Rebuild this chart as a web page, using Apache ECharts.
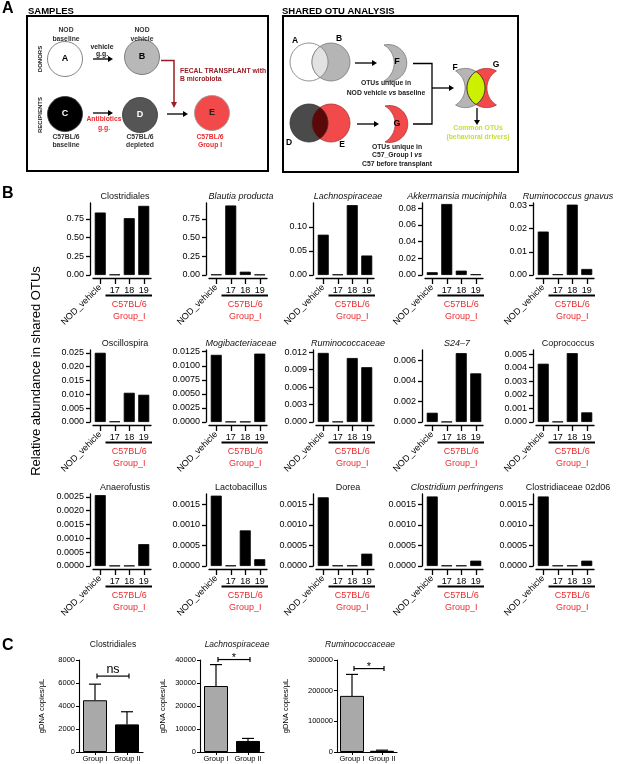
<!DOCTYPE html>
<html><head><meta charset="utf-8">
<script src="https://cdn.jsdelivr.net/npm/echarts@6/dist/echarts.min.js"></script>
<style>html,body{margin:0;padding:0;background:#fff}#c{width:617px;height:764px}</style>
</head><body><div id="c"></div>
<script>
// ---------------- DATA ----------------
const categories = ['NOD_vehicle', '17', '18', '19'];
const groupLabel = 'C57BL/6\nGroup_I';
const taxa = ['Clostridiales', 'Blautia producta', 'Lachnospiraceae', 'Akkermansia muciniphila', 'Ruminococcus gnavus',
  'Oscillospira', 'Mogibacteriaceae', 'Ruminococcaceae', 'S24\u20137', 'Coprococcus',
  'Anaerofustis', 'Lactobacillus', 'Dorea', 'Clostridium perfringens', 'Clostridiaceae 02d06'];
const italicTaxa = [false, true, true, true, true, false, true, true, true, false, false, false, false, true, false];

const clostridiales = [0.833, 0.006, 0.758, 0.922];
const blautiaProducta = [0.006, 0.927, 0.044, 0.005];
const lachnospiraceae = [0.084, 0.001, 0.1456, 0.0406];
const akkermansiaMuciniphila = [0.0033, 0.0848, 0.0052, 0.0008];
const ruminococcusGnavus = [0.0187, 0.0003, 0.0303, 0.0026];
const oscillospira = [0.0250, 0.0002, 0.01055, 0.00984];
const mogibacteriaceae = [0.01194, 0.00005, 0.00005, 0.01216];
const ruminococcaceae = [0.0119, 0.00005, 0.01102, 0.00944];
const s24_7 = [0.0009, 0.00002, 0.0067, 0.00473];
const coprococcus = [0.00429, 0.00002, 0.00507, 0.00071];
const anaerofustis = [0.00256, 0.00001, 0.00001, 0.00079];
const lactobacillus = [0.00171, 0.00001, 0.000866, 0.000165];
const dorea = [0.00167, 0.00001, 0.00001, 0.0003];
const clostridiumPerfringens = [0.00169, 0.00001, 0.00001, 0.00013];
const clostridiaceae02d06 = [0.00169, 0.00001, 0.00001, 0.00013];

const yMaxima = [0.96, 0.96, 0.15, 0.086, 0.031, 0.026, 0.0128, 0.0124, 0.007, 0.0053, 0.0026, 0.00175, 0.00175, 0.00175, 0.00175];
const yTicks = [
  [0, 0.25, 0.5, 0.75], [0, 0.25, 0.5, 0.75], [0, 0.05, 0.1], [0, 0.02, 0.04, 0.06, 0.08], [0, 0.01, 0.02, 0.03],
  [0, 0.005, 0.01, 0.015, 0.02, 0.025], [0, 0.0025, 0.005, 0.0075, 0.01, 0.0125], [0, 0.003, 0.006, 0.009, 0.012], [0, 0.002, 0.004, 0.006], [0, 0.001, 0.002, 0.003, 0.004, 0.005],
  [0, 0.0005, 0.001, 0.0015, 0.002, 0.0025], [0, 0.0005, 0.001, 0.0015], [0, 0.0005, 0.001, 0.0015], [0, 0.0005, 0.001, 0.0015], [0, 0.0005, 0.001, 0.0015]
];
const yDecimals = [2, 2, 2, 2, 2, 3, 4, 3, 3, 3, 4, 4, 4, 4, 4];
const bYTitle = 'Relative abundance in shared OTUs';

// Panel C (qPCR)
const groupsC = ['Group I', 'Group II'];
const cTitles = ['Clostridiales', 'Lachnospiraceae', 'Ruminococcaceae'];
const cItalic = [false, true, true];
const clostridialesMean = [4500, 2400];
const clostridialesUpper = [5900, 3500];
const lachnospiraceaeMean = [28700, 4800];
const lachnospiraceaeUpper = [38000, 5900];
const ruminococcaceaeMean = [183000, 4000];
const ruminococcaceaeUpper = [253000, 6000];
const cYMax = [8000, 40000, 300000];
const cYInterval = [2000, 10000, 100000];
const cSig = ['ns', '*', '*'];
const cSigLevel = [6600, 40200, 272000];
const cYTitle = 'gDNA copies/\u03bcL';

// ---------------- LAYOUT ----------------
const FONT = '"Liberation Sans", Arial, Helvetica, sans-serif';
const RED = '#ec2b2f';
const bValues = [clostridiales, blautiaProducta, lachnospiraceae, akkermansiaMuciniphila, ruminococcusGnavus,
  oscillospira, mogibacteriaceae, ruminococcaceae, s24_7, coprococcus,
  anaerofustis, lactobacillus, dorea, clostridiumPerfringens, clostridiaceae02d06];
const colLefts = [93, 209, 316, 425, 536];
const rowTops = [203, 350, 494];
const GW = 58, GH = 72;

const grids = [], xAxes = [], yAxes = [], series = [];
const axisLineStyle = { color: '#000', width: 1.3 };

bValues.forEach((vals, i) => {
  const r = Math.floor(i / 5), c = i % 5;
  grids.push({ left: colLefts[c], top: rowTops[r], width: GW, height: GH, outerBoundsMode: 'none', containLabel: false });
  const gi = grids.length - 1;
  xAxes.push({
    type: 'category', gridIndex: gi, data: categories, position: 'bottom', offset: 3,
    axisLine: { show: true, onZero: false, lineStyle: axisLineStyle },
    axisTick: { show: true, alignWithLabel: true, interval: 0, length: 6, lineStyle: axisLineStyle },
    axisLabel: { rotate: 45, interval: (idx) => idx === 0, fontSize: 9, color: '#000', fontFamily: FONT, margin: 8, hideOverlap: false },
    splitLine: { show: false }
  });
  xAxes.push({
    type: 'category', gridIndex: gi, data: categories, position: 'bottom', offset: 3,
    axisLine: { show: false, onZero: false }, axisTick: { show: false },
    axisLabel: { interval: (idx) => idx > 0, fontSize: 9, color: '#000', fontFamily: FONT, margin: 8, hideOverlap: false },
    splitLine: { show: false }
  });
  const ticks = yTicks[i];
  const dec = yDecimals[i];
  yAxes.push({
    type: 'value', gridIndex: gi, min: 0, max: yMaxima[i], interval: ticks[1] - ticks[0], offset: 3,
    axisLine: { show: true, lineStyle: axisLineStyle },
    axisTick: { show: true, length: 4, customValues: ticks, lineStyle: axisLineStyle },
    axisLabel: { customValues: ticks, formatter: (v) => Number(v).toFixed(dec), fontSize: 9, color: '#000', fontFamily: FONT, margin: 6, hideOverlap: false },
    splitLine: { show: false }
  });
  series.push({
    type: 'bar', xAxisIndex: 2 * i, yAxisIndex: gi, data: vals, barWidth: 11, silent: true,
    itemStyle: { color: '#000', borderColor: '#000', borderWidth: 0.8 }
  });
});

const cMeans = [clostridialesMean, lachnospiraceaeMean, ruminococcaceaeMean];
const cUppers = [clostridialesUpper, lachnospiraceaeUpper, ruminococcaceaeUpper];
const cLefts = [79, 200, 337];
const cWidths = [64, 64, 60];
const cNameGaps = [33, 33, 47];
const cTitleX = [113, 237, 360];
const cFirstGrid = grids.length;
const cFirstX = xAxes.length;

function errorRender(params, api) {
  const base = api.coord([api.value(0), api.value(1)]);
  const top = api.coord([api.value(0), api.value(2)]);
  const st = { stroke: '#000', lineWidth: 1.2 };
  return {
    type: 'group', children: [
      { type: 'line', shape: { x1: base[0], y1: base[1], x2: base[0], y2: top[1] }, style: st },
      { type: 'line', shape: { x1: base[0] - 6, y1: top[1], x2: base[0] + 6, y2: top[1] }, style: st }
    ]
  };
}

cMeans.forEach((m, k) => {
  grids.push({ left: cLefts[k], top: 660, width: cWidths[k], height: 92, outerBoundsMode: 'none', containLabel: false });
  const gi = grids.length - 1;
  xAxes.push({
    type: 'category', gridIndex: gi, data: groupsC, position: 'bottom',
    axisLine: { show: true, onZero: false, lineStyle: { color: '#000', width: 1.1 } },
    axisTick: { show: true, alignWithLabel: true, length: 3, lineStyle: { color: '#000', width: 1 } },
    axisLabel: { fontSize: 7.5, color: '#000', fontFamily: FONT, margin: 3, interval: 0 },
    splitLine: { show: false }
  });
  const xi = xAxes.length - 1;
  yAxes.push({
    type: 'value', gridIndex: gi, min: 0, max: cYMax[k], interval: cYInterval[k],
    name: cYTitle, nameLocation: 'middle', nameRotate: 90, nameGap: cNameGaps[k],
    nameTextStyle: { fontSize: 7.5, color: '#000', fontFamily: FONT },
    axisLine: { show: true, lineStyle: { color: '#000', width: 1.1 } },
    axisTick: { show: true, length: 3, lineStyle: { color: '#000', width: 1 } },
    axisLabel: { formatter: (v) => String(v), fontSize: 7.5, color: '#000', fontFamily: FONT, margin: 4 },
    splitLine: { show: false }
  });
  series.push({
    type: 'bar', xAxisIndex: xi, yAxisIndex: gi, barWidth: 24, silent: true,
    data: [{ value: m[0], itemStyle: { color: '#a9a9a9' } }, { value: m[1], itemStyle: { color: '#000' } }],
    itemStyle: { borderColor: '#000', borderWidth: 1 }
  });
  series.push({
    type: 'custom', xAxisIndex: xi, yAxisIndex: gi, renderItem: errorRender, z: 5, silent: true,
    data: [[0, m[0], cUppers[k][0]], [1, m[1], cUppers[k][1]]]
  });
});

const chart = echarts.init(document.getElementById('c'), null, { renderer: 'canvas' });
chart.setOption({
  animation: false,
  backgroundColor: '#fff',
  textStyle: { fontFamily: FONT },
  grid: grids, xAxis: xAxes, yAxis: yAxes, series: series
});

// ---------------- ANNOTATIONS ----------------
function txt(x, y, text, o = {}) {
  const style = {
    text, x: 0, y: 0, fill: o.color || '#000',
    fontSize: o.size || 9, fontFamily: FONT,
    fontWeight: o.bold ? 'bold' : 'normal', fontStyle: o.italic ? 'italic' : 'normal',
    align: o.align || 'center', verticalAlign: o.va || 'middle',
    textAlign: o.align || 'center', textVerticalAlign: o.va || 'middle'
  };
  if (o.lh) style.lineHeight = o.lh;
  if (o.rich) style.rich = o.rich;
  return { type: 'text', x, y, rotation: o.rot || 0, z: 20, silent: true, style };
}
function circ(cx, cy, r, fill, stroke, lw) {
  return { type: 'circle', z: 10, silent: true, shape: { cx, cy, r }, style: { fill, stroke: stroke || null, lineWidth: lw || 0.8 } };
}
function pline(points, color, lw) {
  return { type: 'polyline', z: 11, silent: true, shape: { points }, style: { stroke: color || '#000', lineWidth: lw || 1.3, fill: null } };
}
function arrow(x1, y1, x2, y2, color, lw) {
  const dx = x2 - x1, dy = y2 - y1, L = Math.hypot(dx, dy), ux = dx / L, uy = dy / L;
  const h = 5, w = 3;
  const bx = x2 - ux * h, by = y2 - uy * h;
  return [
    pline([[x1, y1], [bx, by]], color, lw),
    { type: 'polygon', z: 11, silent: true, shape: { points: [[x2, y2], [bx - uy * w, by + ux * w], [bx + uy * w, by - ux * w]] }, style: { fill: color || '#000' } }
  ];
}
function arcPts(cx, cy, r, a0, a1, n) {
  const pts = [];
  for (let j = 0; j <= n; j++) {
    const a = a0 + (a1 - a0) * j / n;
    pts.push([cx + r * Math.cos(a), cy + r * Math.sin(a)]);
  }
  return pts;
}
// crescent with tips on vertical line x = tipX, bulging right (mirror = bulging left)
function crescent(tipX, cy, halfH, rO, rI, mirror, fill, stroke) {
  const dO = Math.sqrt(rO * rO - halfH * halfH), dI = Math.sqrt(rI * rI - halfH * halfH);
  const outer = arcPts(tipX + dO, cy, rO, Math.atan2(-halfH, -dO), Math.atan2(halfH, -dO), 40);
  const inner = arcPts(tipX - dI, cy, rI, Math.atan2(halfH, dI), Math.atan2(-halfH, dI), 30);
  let pts = outer.concat(inner);
  if (mirror) pts = pts.map(p => [2 * tipX - p[0], p[1]]);
  return { type: 'polygon', z: 10, silent: true, shape: { points: pts }, style: { fill, stroke, lineWidth: 0.8 } };
}
// lens = intersection of two equal circles with centres (c1x,cy) and (c2x,cy)
function lens(c1x, c2x, cy, r, fill, stroke, lw) {
  const d = c2x - c1x, xi = (c1x + c2x) / 2, h = Math.sqrt(r * r - d * d / 4);
  const right = arcPts(c1x, cy, r, Math.atan2(-h, d / 2), Math.atan2(h, d / 2), 30);
  const left = right.slice(1, -1).reverse().map(p => [2 * xi - p[0], p[1]]);
  return { type: 'polygon', z: 10, silent: true, shape: { points: right.concat(left) }, style: { fill, stroke, lineWidth: lw || 0.8 } };
}

const g = [];
// Panel letters
g.push(txt(2, 8.5, 'A', { bold: true, size: 16, align: 'left' }));
g.push(txt(2, 194, 'B', { bold: true, size: 16, align: 'left' }));
g.push(txt(2, 646, 'C', { bold: true, size: 16, align: 'left' }));

// ---- Panel A left box ----
const S = 6.8;
g.push(txt(28, 11, 'SAMPLES', { bold: true, size: 9.5, align: 'left' }));
g.push({ type: 'rect', z: 9, silent: true, shape: { x: 27, y: 16, width: 241, height: 155 }, style: { fill: null, stroke: '#000', lineWidth: 2 } });
g.push(txt(40, 59, 'DONORS', { bold: true, size: 6, rot: Math.PI / 2, color: '#222' }));
g.push(txt(40, 115, 'RECIPIENTS', { bold: true, size: 6, rot: Math.PI / 2, color: '#222' }));
g.push(txt(66, 34.5, 'NOD\nbaseline', { bold: true, size: S, lh: 8.5, color: '#333' }));
g.push(circ(65, 59, 17.5, '#fff', '#666', 0.8));
g.push(txt(65, 59, 'A', { bold: true, size: 9 }));
g.push(txt(102, 50.5, 'vehicle\ng.g.', { bold: true, size: S, lh: 7.5, color: '#222' }));
g.push(...arrow(93, 59, 113, 59));
g.push(txt(142, 34.5, 'NOD\nvehicle', { bold: true, size: S, lh: 8.5, color: '#333' }));
g.push(circ(142, 57, 17.5, '#b8b8b8', '#666', 0.8));
g.push(txt(142, 57, 'B', { bold: true, size: 9 }));
g.push(pline([[161, 60.5], [174, 60.5], [174, 102]], '#9b1c24', 1.5));
g.push({ type: 'polygon', z: 11, silent: true, shape: { points: [[174, 108], [171, 102], [177, 102]] }, style: { fill: '#9b1c24' } });
g.push(txt(180, 75, 'FECAL TRANSPLANT with\nB microbiota', { bold: true, size: S, lh: 8.5, color: '#9b1c24', align: 'left' }));
g.push(circ(65, 114, 17.5, '#000', '#333', 0.8));
g.push(txt(65, 114, 'C', { bold: true, size: 9, color: '#fff' }));
g.push(txt(66, 141, 'C57BL/6\nbaseline', { bold: true, size: S, lh: 8.5, color: '#333' }));
g.push(...arrow(93, 113, 113, 113));
g.push(txt(104, 123.5, 'Antibiotics\ng.g.', { bold: true, size: S, lh: 9.5, color: RED }));
g.push(circ(140, 115, 17.5, '#555', '#333', 0.8));
g.push(txt(140, 115, 'D', { bold: true, size: 9, color: '#fff' }));
g.push(txt(140, 141, 'C57BL/6\ndepleted', { bold: true, size: S, lh: 8.5, color: '#333' }));
g.push(...arrow(167, 114, 188, 114));
g.push(circ(212, 113, 17.5, '#f24a4a', '#999', 0.8));
g.push(txt(212, 113, 'E', { bold: true, size: 9, color: '#222' }));
g.push(txt(210, 141, 'C57BL/6\nGroup I', { bold: true, size: S, lh: 8.5, color: RED }));

// ---- Panel A right box ----
g.push(txt(282, 11, 'SHARED OTU ANALYSIS', { bold: true, size: 9.5, align: 'left' }));
g.push({ type: 'rect', z: 9, silent: true, shape: { x: 283, y: 16, width: 235, height: 156 }, style: { fill: null, stroke: '#000', lineWidth: 2 } });
g.push(txt(295, 41, 'A', { bold: true, size: 8.5 }));
g.push(txt(339, 39, 'B', { bold: true, size: 8.5 }));
g.push(circ(309, 62, 19, '#fff', '#777', 0.8));
g.push(circ(331, 62, 19, '#b5b5b5', '#777', 0.8));
g.push(lens(309, 331, 62, 19, '#e2e2e2', '#777'));
g.push(...arrow(355, 63, 377, 63));
g.push(crescent(384, 63, 18, 18.5, 21, false, '#b5b5b5', '#777'));
g.push(txt(397, 62, 'F', { bold: true, size: 9 }));
const richAB = {
  b: { fontSize: S, fontWeight: 'bold', fontFamily: FONT, fill: '#222', lineHeight: 9.5 },
  i: { fontSize: S, fontWeight: 'bold', fontStyle: 'italic', fontFamily: FONT, fill: '#222', lineHeight: 9.5 }
};
g.push(txt(386, 88, '{b|OTUs unique in}\n{b|NOD vehicle }{i|vs}{b| baseline}', { bold: true, size: S, lh: 9.5, rich: richAB }));
g.push(circ(309, 123, 19, '#4a4a4a', '#333', 0.8));
g.push(circ(331, 123, 19, '#f24a4a', '#a33', 0.8));
g.push(lens(309, 331, 123, 19, '#5a0808', '#333'));
g.push(txt(289, 143, 'D', { bold: true, size: 8.5 }));
g.push(txt(342, 145, 'E', { bold: true, size: 8.5 }));
g.push(...arrow(357, 124, 379, 124));
g.push(crescent(385, 124, 18, 18.5, 21, false, '#f24a4a', '#a33'));
g.push(txt(397, 124, 'G', { bold: true, size: 9 }));
const richG = {
  b: { fontSize: S, fontWeight: 'bold', fontFamily: FONT, fill: '#222', lineHeight: 8.5 },
  i: { fontSize: S, fontWeight: 'bold', fontStyle: 'italic', fontFamily: FONT, fill: '#222', lineHeight: 8.5 }
};
g.push(txt(397, 155.5, '{b|OTUs unique in}\n{b|C57_Group I }{i|vs}\n{b|C57 before transplant}', { bold: true, size: S, lh: 8.5, rich: richG }));
g.push(pline([[413, 63.5], [432, 63.5], [432, 124], [413, 124]], '#000', 1.3));
g.push(...arrow(432, 88, 454, 88));
g.push(crescent(455.6, 88, 17, 19.6, 20, false, '#b5b5b5', '#777'));
g.push(crescent(496.4, 88, 17, 19.6, 20, true, '#f24a4a', '#a33'));
g.push(lens(465.4, 486.6, 88, 19.6, '#ccf000', '#333', 0.9));
g.push(txt(455, 68, 'F', { bold: true, size: 8.5 }));
g.push(txt(496, 65, 'G', { bold: true, size: 8.5 }));
g.push(...arrow(477, 108, 477, 125));
g.push(txt(478, 132.5, 'Common OTUs\n(behavioral drivers)', { bold: true, size: S, lh: 9, color: '#c3df3c' }));

// ---- Panel B annotations ----
g.push(txt(36, 371, bYTitle, { size: 13, rot: Math.PI / 2 }));
bValues.forEach((vals, i) => {
  const r = Math.floor(i / 5), c = i % 5;
  g.push(txt(colLefts[c] + GW / 2 + 3, rowTops[r] - 6.5, taxa[i], { size: 9, italic: italicTaxa[i], color: '#111' }));
  const xi = 2 * i;
  const p17 = chart.convertToPixel({ xAxisIndex: xi }, categories[1]);
  const p18 = chart.convertToPixel({ xAxisIndex: xi }, categories[2]);
  const p19 = chart.convertToPixel({ xAxisIndex: xi }, categories[3]);
  const half = (p18 - p17) / 2;
  const y0 = chart.convertToPixel({ yAxisIndex: i }, 0);
  g.push(pline([[p17 - half - 2, y0 + 20.5], [p19 + half + 1, y0 + 20.5]], '#000', 1.8));
  g.push(txt(p18, y0 + 35.5, groupLabel, { size: 9, lh: 11.5, color: RED }));
});

// ---- Panel C annotations ----
cMeans.forEach((m, k) => {
  const gi = cFirstGrid + k, xi = cFirstX + k;
  const xa = chart.convertToPixel({ xAxisIndex: xi }, groupsC[0]);
  const xb = chart.convertToPixel({ xAxisIndex: xi }, groupsC[1]);
  const ys = chart.convertToPixel({ yAxisIndex: gi }, cSigLevel[k]);
  g.push(txt(cTitleX[k], 644.5, cTitles[k], { size: 8.5, italic: cItalic[k], color: '#111' }));
  g.push(pline([[xa + 2, ys], [xb + 2, ys]], '#000', 1.2));
  g.push(pline([[xa + 2, ys - 2.5], [xa + 2, ys + 2.5]], '#000', 1.2));
  g.push(pline([[xb + 2, ys - 2.5], [xb + 2, ys + 2.5]], '#000', 1.2));
  if (cSig[k] === 'ns') g.push(txt((xa + xb) / 2 + 2, ys - 7, cSig[k], { size: 12.5 }));
  else g.push(txt((xa + xb) / 2 + 2, ys - 2, cSig[k], { size: 11 }));
});

chart.setOption({ graphic: { elements: g } });
</script>
</body></html>
